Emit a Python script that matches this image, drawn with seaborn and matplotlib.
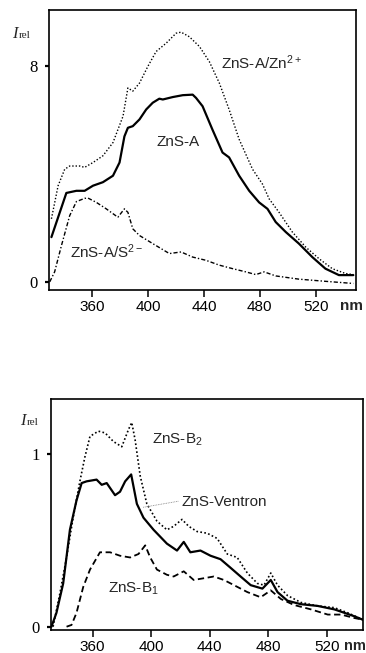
import matplotlib
matplotlib.use("Agg")
import matplotlib.pyplot as plt
import seaborn as sns
import pandas as pd
import numpy as np

# ---------------- data: top panel ----------------
a_nm = [330.7, 341.4, 348.6, 354.5, 360.5, 367.6, 374.8, 379.5, 383.0, 385.5, 389.0, 393.8,
        398.6, 403.3, 408.0, 410.5, 417.6, 424.8, 431.9, 434.3, 439.0, 446.0, 453.3, 458.0,
        465.2, 472.4, 479.5, 485.5, 491.4, 498.6, 508.0, 517.6, 527.0, 536.7, 547.0]
a_val = [1.66, 3.30, 3.38, 3.38, 3.57, 3.70, 3.94, 4.43, 5.40, 5.72, 5.78, 6.03,
         6.40, 6.65, 6.80, 6.77, 6.86, 6.93, 6.95, 6.83, 6.52, 5.66, 4.80, 4.62,
         3.94, 3.38, 2.95, 2.71, 2.22, 1.85, 1.42, 0.92, 0.49, 0.25, 0.25]

zn_nm = [330.7, 335.5, 340.2, 343.8, 351.0, 354.5, 360.5, 367.6, 374.8, 382.0, 385.5, 389.0,
         393.8, 399.8, 405.7, 412.9, 420.0, 423.6, 429.5, 436.7, 443.8, 451.0, 458.0, 465.2,
         474.8, 481.9, 486.7, 493.8, 503.3, 512.9, 522.4, 531.9, 541.4, 547.0]
zn_val = [2.34, 3.57, 4.18, 4.30, 4.30, 4.25, 4.43, 4.68, 5.17, 6.15, 7.20, 7.08,
          7.38, 8.00, 8.55, 8.86, 9.23, 9.27, 9.10, 8.74, 8.18, 7.38, 6.40, 5.29,
          4.18, 3.63, 3.08, 2.58, 1.85, 1.29, 0.86, 0.49, 0.31, 0.27]

s_nm = [329.5, 333.0, 337.9, 343.8, 348.6, 354.5, 356.9, 362.9, 370.0, 378.3, 383.0, 385.5,
        389.0, 393.8, 403.3, 415.2, 423.6, 431.9, 441.4, 451.0, 460.5, 470.0, 477.1, 483.1,
        491.4, 508.0, 527.0, 547.0]
s_val = [0.00, 0.37, 1.35, 2.46, 2.98, 3.10, 3.11, 2.95, 2.71, 2.40, 2.71, 2.58,
         1.97, 1.72, 1.42, 1.05, 1.11, 0.92, 0.80, 0.62, 0.49, 0.37, 0.27, 0.37,
         0.22, 0.10, 0.02, -0.06]

# ---------------- data: bottom panel ----------------
v_nm = [331.9, 335.3, 339.9, 344.5, 349.0, 352.5, 355.9, 362.7, 366.2, 369.6, 375.3, 378.7,
        382.2, 386.3, 390.2, 394.7, 401.6, 410.7, 417.6, 422.2, 426.7, 433.6, 440.5, 447.3,
        454.2, 461.0, 467.9, 475.9, 481.6, 486.2, 493.0, 502.2, 513.6, 525.0, 531.9, 538.7, 544.5]
v_val = [0.00, 0.08, 0.25, 0.56, 0.73, 0.83, 0.84, 0.85, 0.82, 0.83, 0.76, 0.78,
         0.84, 0.88, 0.71, 0.63, 0.56, 0.48, 0.44, 0.49, 0.43, 0.44, 0.41, 0.39,
         0.34, 0.29, 0.24, 0.22, 0.27, 0.20, 0.15, 0.13, 0.12, 0.10, 0.08, 0.06, 0.04]

b2_nm = [333.0, 337.6, 342.2, 346.7, 351.3, 354.7, 358.2, 363.9, 368.5, 374.2, 379.9, 384.5,
         386.7, 389.0, 392.5, 397.0, 403.9, 410.7, 415.3, 421.0, 425.6, 431.3, 438.2, 445.0,
         451.9, 458.7, 465.6, 472.5, 477.0, 481.6, 486.2, 493.0, 502.2, 513.6, 525.0, 534.2, 544.5]
b2_val = [0.00, 0.19, 0.40, 0.63, 0.84, 0.98, 1.10, 1.13, 1.12, 1.07, 1.04, 1.14,
          1.18, 1.08, 0.87, 0.71, 0.61, 0.56, 0.58, 0.62, 0.58, 0.55, 0.54, 0.51,
          0.42, 0.40, 0.31, 0.25, 0.24, 0.31, 0.24, 0.18, 0.14, 0.12, 0.11, 0.08, 0.04]

b1_nm = [342.2, 345.6, 349.0, 353.6, 358.2, 365.0, 371.9, 378.7, 385.6, 391.3, 395.9, 399.3,
         403.9, 410.7, 415.3, 422.2, 429.0, 435.9, 442.7, 449.6, 456.5, 465.6, 474.7, 481.6,
         488.5, 497.6, 509.0, 520.5, 529.6, 538.7, 544.5]
b1_val = [0.00, 0.01, 0.08, 0.23, 0.33, 0.43, 0.43, 0.41, 0.40, 0.42, 0.47, 0.40,
          0.33, 0.30, 0.29, 0.32, 0.27, 0.28, 0.29, 0.27, 0.24, 0.20, 0.17, 0.21,
          0.16, 0.125, 0.10, 0.07, 0.07, 0.05, 0.04]

x_ticks = [360, 400, 440, 480, 520]
top_yticks = [0, 8]
bot_yticks = [0, 1]

# ---------------- style ----------------
sns.set_theme(style="ticks")
plt.rcParams["font.family"] = ["Liberation Sans", "DejaVu Sans"]
plt.rcParams["mathtext.fontset"] = "custom"
plt.rcParams["mathtext.rm"] = "Liberation Sans"
plt.rcParams["mathtext.it"] = "Liberation Sans:italic"
plt.rcParams["axes.linewidth"] = 1.2

fig = plt.figure(figsize=(3.66, 6.53), dpi=100)
ax1 = fig.add_axes([0.134, 0.556, 0.839, 0.429])
ax2 = fig.add_axes([0.139, 0.035, 0.853, 0.354])

dotted = (0, (1, 1.4))
dashdot = (0, (3, 1.5, 1, 1.5))
dashed = (0, (3.5, 2))

def draw(ax, nm, val, ls, lw):
    df = pd.DataFrame({"nm": nm, "I": val})
    sns.lineplot(data=df, x="nm", y="I", ax=ax, color="black", lw=lw,
                 linestyle=ls, estimator=None, sort=False)

draw(ax1, zn_nm, zn_val, dotted, 1.0)
draw(ax1, a_nm, a_val, "-", 1.6)
draw(ax1, s_nm, s_val, dashdot, 1.0)

draw(ax2, b2_nm, b2_val, dotted, 1.2)
draw(ax2, v_nm, v_val, "-", 1.6)
draw(ax2, b1_nm, b1_val, dashed, 1.3)

def style(ax, xlim, ylim, yticks):
    ax.set_xlim(*xlim)
    ax.set_ylim(*ylim)
    ax.set_xticks(x_ticks)
    ax.set_yticks(yticks)
    ax.set_xlabel("")
    ax.set_ylabel("")
    for s in ax.spines.values():
        s.set_visible(True)
        s.set_linewidth(1.2)
        s.set_color("black")
    ax.tick_params(axis="x", direction="out", length=5, width=1.1, pad=2,
                   labelsize=11, colors="black")
    ax.tick_params(axis="y", direction="out", length=3, width=1.6, pad=5,
                   labelsize=12, colors="black")
    for lab in ax.get_yticklabels():
        lab.set_fontfamily("Liberation Serif")

style(ax1, (329, 549), (-0.3, 10.1), top_yticks)
style(ax2, (331.5, 544.6), (-0.02, 1.316), bot_yticks)

# Labels
ax1.text(452, 8.15, "ZnS-A/Zn$^{2+}$", fontsize=11, va="center", ha="left")
ax1.text(406, 5.19, "ZnS-A", fontsize=11, va="center", ha="left")
ax1.text(344, 1.11, "ZnS-A/S$^{2-}$", fontsize=11, va="center", ha="left")

ax2.text(400.7, 1.08, "ZnS-B$_2$", fontsize=11, va="center", ha="left")
ax2.text(420.5, 0.72, "ZnS-Ventron", fontsize=11, va="center", ha="left")
ax2.plot([394.5, 418.5], [0.69, 0.725], color="gray", lw=0.6, ls=(0, (1, 1)))
ax2.text(370.5, 0.22, "ZnS-B$_1$", fontsize=11, va="center", ha="left")

# nm unit labels
ax1.text(537.5, -0.057, "nm", transform=ax1.get_xaxis_transform(), fontsize=11,
         fontweight="bold", va="center", ha="left")
ax2.text(531.5, -0.07, "nm", transform=ax2.get_xaxis_transform(), fontsize=10.5,
         fontweight="bold", va="center", ha="left")

# I_rel labels (serif)
def irel(x, y):
    fig.text(x, y, "I", fontsize=12, style="italic", family="Liberation Serif",
             ha="left", va="baseline")
    fig.text(x + 0.018, y, "rel", fontsize=8, family="Liberation Serif",
             ha="left", va="baseline")

irel(0.033, 1 - 38 / 653)
irel(0.055, 1 - 425 / 653)

fig.savefig("out.png", dpi=100)
